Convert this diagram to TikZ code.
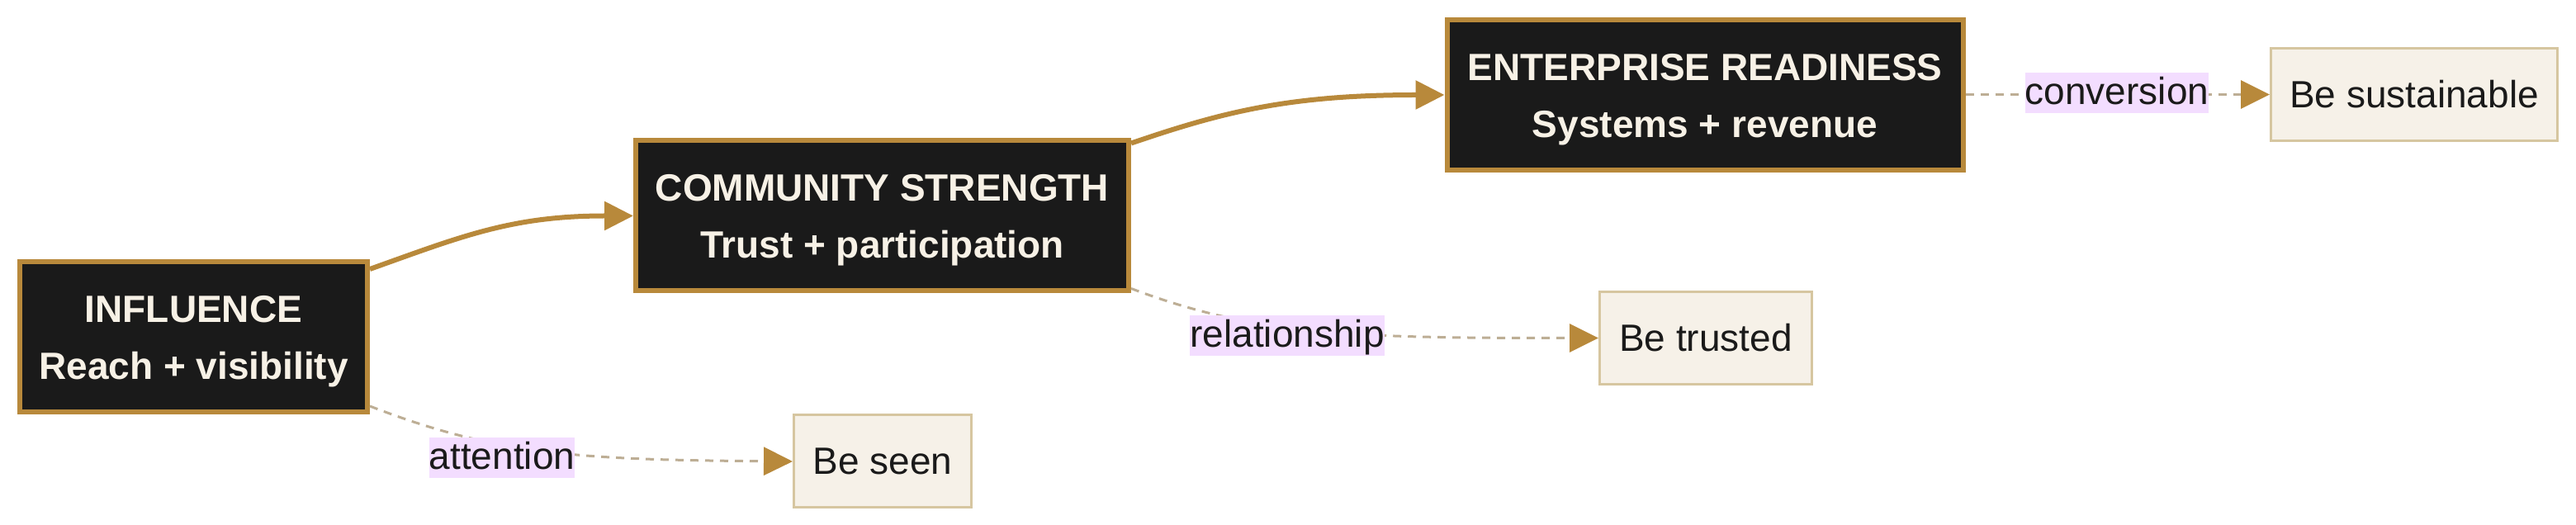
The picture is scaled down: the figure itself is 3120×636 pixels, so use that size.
\documentclass[tikz,border=0pt]{standalone}
\usepackage{fontspec}
\setmainfont{Liberation Sans}
\usetikzlibrary{arrows.meta,calc}
\definecolor{gold}{HTML}{B8893B}
\definecolor{boxblack}{HTML}{1A1A1A}
\definecolor{cream}{HTML}{F7F1E6}
\definecolor{goalfill}{HTML}{F6F1E8}
\definecolor{goalborder}{HTML}{D6C6A0}
\definecolor{ink}{HTML}{1A1A1A}
\definecolor{dashc}{HTML}{BDAE95}
\definecolor{labelbg}{HTML}{F3DDFF}
\newcommand{\toplift}{\rule{0pt}{43pt}}
\begin{document}
\begin{tikzpicture}[x=1pt,y=1pt,
  stage/.style={draw=gold, line width=6pt, fill=boxblack, text=cream,
    font=\bfseries\fontsize{46}{69}\selectfont, align=center, inner sep=0pt,
    minimum width=#1, minimum height=182pt},
  goal/.style={draw=goalborder, line width=3pt, fill=goalfill, text=ink,
    font=\fontsize{46}{55}\selectfont, inner sep=0pt,
    minimum width=#1, minimum height=112pt},
  elabel/.style={fill=labelbg, text=ink, font=\fontsize{46}{55}\selectfont,
    inner sep=0pt, text height=38pt, text depth=11pt},
  strong/.style={draw=gold, line width=6pt, -{Triangle[length=35pt,width=34pt]}},
  weak/.style={draw=dashc, line width=3pt, dash pattern=on 10pt off 8pt,
    -{Triangle[length=35pt,width=34pt,color=gold]}}
]
\useasboundingbox (0,0) rectangle (3120,636);

\node[stage=421pt] (inf) at (234.5,228) {\toplift INFLUENCE\\Reach + visibility};
\node[stage=597pt] (com) at (1068.5,374.5) {\toplift COMMUNITY STRENGTH\\Trust + participation};
\node[stage=625pt] (ent) at (2065,521) {\toplift ENTERPRISE READINESS\\Systems + revenue};

\node[goal=347pt] (sus) at (2924,521.5) {Be sustainable};
\node[goal=257pt] (tru) at (2066,226.5) {Be trusted};
\node[goal=215pt] (see) at (1069,77) {Be seen};

% strong edges
\coordinate (s1) at ($(inf.north east)+(0,-12)$);
\draw[strong] (s1) .. controls (560,350) and (620,374.5) .. (com.west);
\coordinate (s2) at ($(com.north east)+(0,-6)$);
\draw[strong] (s2) .. controls (1480,500) and (1560,521) .. (ent.west);

% weak edges
\coordinate (w1) at ($(inf.south east)+(0,10)$);
\draw[weak] (w1) .. controls (600,85) and (700,79) .. (see.west);
\coordinate (w2) at ($(com.south east)+(0,6)$);
\draw[weak] (w2) .. controls (1522,229) and (1640,226.5) .. (tru.west);
\draw[weak] (ent.east |- sus.west) -- (sus.west);

% edge labels
\node[elabel] (l1) at (608,81) {attention};
\node[elabel] (l2) at (1559,229) {relationship};
\node[elabel] (l3) at (2564,523) {conversion};
\end{tikzpicture}
\end{document}
